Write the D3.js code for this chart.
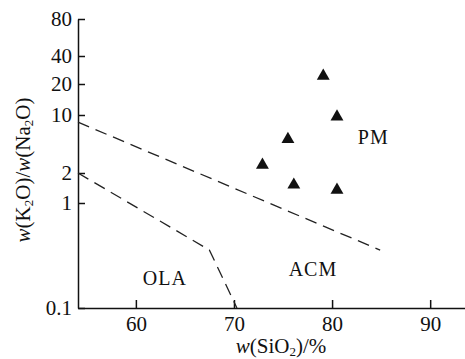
<!DOCTYPE html>
<html>
<head>
<meta charset="utf-8">
<script src="https://cdn.jsdelivr.net/npm/d3@7.9.0/dist/d3.min.js"></script>
<style>
  html, body { margin: 0; padding: 0; background: #fff; }
  svg { display: block; font-family: "Liberation Serif", "Times New Roman", serif; }
  .axis path, .axis line { stroke: #111; stroke-width: 1.5; }
  .axis text { font-size: 21px; fill: #111; font-family: "Liberation Serif", serif; }
</style>
</head>
<body>
<svg id="chart" width="465" height="359"></svg>
<script>
// sample points: SiO2 (%) vs K2O/Na2O
const sio2 = [79.1, 80.5, 75.5, 72.9, 76.1, 80.5];
const k2oNa2o = [24.4, 9.55, 5.1, 2.5, 1.52, 1.35];

// tectonic field boundaries (dashed)
const upperBoundary = [
  { x: 54.1, y: 8.2 },
  { x: 84.9, y: 0.356 },
];
const lowerBoundary = [
  { x: 54.1, y: 2 },
  { x: 67.5, y: 0.356 },
  { x: 70.3, y: 0.1 },
];

// field labels
const fieldNames = ['PM', 'ACM', 'OLA'];
const fieldX = [84.2, 78.05, 62.95];
const fieldY = [5.5, 0.233, 0.193];

const xTicks = [60, 70, 80, 90];
const yTicks = [0.1, 1, 2, 10, 20, 40, 80];

const svg = d3.select('#chart');

const x = d3.scaleLinear().domain([54.1, 93.55]).range([78, 465]);
// the printed log axis is not evenly spaced, so the log scale is piecewise
const y = d3.scaleLog().domain(yTicks).range([308, 203, 173, 115, 84, 56, 19]);

// axes
svg.append('g')
  .attr('class', 'axis')
  .attr('transform', 'translate(0,308)')
  .call(d3.axisBottom(x).tickValues(xTicks).tickSizeInner(-8).tickSizeOuter(0).tickPadding(8))
  .call((g) => g.selectAll('text').attr('dy', '0.71em'));

svg.append('g')
  .attr('class', 'axis')
  .attr('transform', 'translate(78,0)')
  .call(d3.axisLeft(y).tickValues(yTicks).tickSizeInner(-7).tickSizeOuter(0).tickPadding(6)
    .tickFormat((d) => String(d)));

// boundaries
const line = d3.line().x((d) => x(d.x)).y((d) => y(d.y));

[upperBoundary, lowerBoundary].forEach((pts) => {
  svg.append('path')
    .attr('d', line(pts))
    .attr('fill', 'none')
    .attr('stroke', '#222')
    .attr('stroke-width', 1.3)
    .attr('stroke-dasharray', '12,7');
});

// points
const triangle = d3.symbol().type(d3.symbolTriangle).size(72);
svg.append('g')
  .selectAll('path')
  .data(sio2.map((s, i) => ({ x: s, y: k2oNa2o[i] })))
  .join('path')
  .attr('d', triangle)
  .attr('transform', (d) => `translate(${x(d.x)},${y(d.y)})`)
  .attr('fill', '#111');

// field labels
svg.append('g')
  .selectAll('text')
  .data(fieldNames)
  .join('text')
  .attr('x', (d, i) => x(fieldX[i]))
  .attr('y', (d, i) => y(fieldY[i]))
  .attr('text-anchor', 'middle')
  .attr('dominant-baseline', 'central')
  .attr('font-size', 20)
  .attr('letter-spacing', 1)
  .attr('fill', '#111')
  .text((d) => d);

// axis titles
const xTitle = svg.append('text')
  .attr('x', 281)
  .attr('y', 353)
  .attr('text-anchor', 'middle')
  .attr('font-size', 21)
  .attr('fill', '#111');
xTitle.append('tspan').attr('font-style', 'italic').text('w');
xTitle.append('tspan').text('(SiO');
xTitle.append('tspan').attr('font-size', 13).attr('dy', 3).text('2');
xTitle.append('tspan').attr('dy', -3).text(')/%');

const yTitle = svg.append('text')
  .attr('transform', 'translate(30,170) rotate(-90)')
  .attr('text-anchor', 'middle')
  .attr('font-size', 21)
  .attr('fill', '#111');
yTitle.append('tspan').attr('font-style', 'italic').text('w');
yTitle.append('tspan').text('(K');
yTitle.append('tspan').attr('font-size', 13).attr('dy', 3).text('2');
yTitle.append('tspan').attr('dy', -3).text('O)/');
yTitle.append('tspan').attr('font-style', 'italic').text('w');
yTitle.append('tspan').text('(Na');
yTitle.append('tspan').attr('font-size', 13).attr('dy', 3).text('2');
yTitle.append('tspan').attr('dy', -3).text('O)');
</script>
</body>
</html>
